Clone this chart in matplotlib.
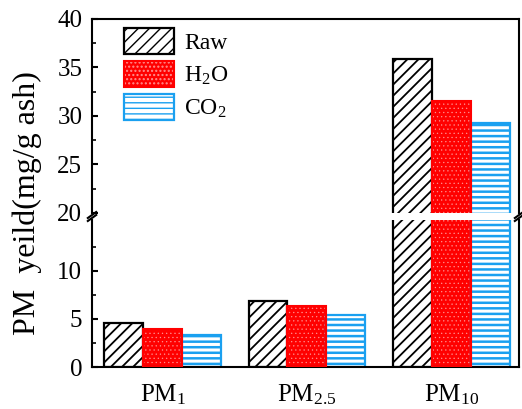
import matplotlib
matplotlib.use("Agg")
import matplotlib.pyplot as plt
import numpy as np
from matplotlib.legend_handler import HandlerTuple

plt.rcParams['font.family'] = ['Liberation Serif', 'DejaVu Serif']
plt.rcParams['mathtext.fontset'] = 'custom'
plt.rcParams['mathtext.rm'] = 'Liberation Serif'
plt.rcParams['mathtext.it'] = 'Liberation Serif'
plt.rcParams['font.size'] = 16

# data
categories = ['PM$_1$', 'PM$_{2.5}$', 'PM$_{10}$']
series_names = ['Raw', 'H$_2$O', 'CO$_2$']
raw = [4.6, 6.9, 35.9]
h2o = [4.0, 6.3, 31.5]
co2 = [3.3, 5.4, 29.25]

blue = '#1aa0f0'
red = '#ff0000'

fig = plt.figure(figsize=(5.22, 4.09), dpi=100)
left, right = 92 / 522, 519 / 522
ax_top = fig.add_axes([left, 1 - 213 / 409, right - left, (213 - 19) / 409])
ax_bot = fig.add_axes([left, 1 - 367 / 409, right - left, (367 - 220) / 409])

x = np.arange(len(categories))
w = 0.27


def draw_bars(ax):
    with plt.rc_context({'hatch.linewidth': 1.3}):
        b1 = ax.bar(x - w, raw, w, facecolor='white', edgecolor='black',
                    hatch='///', linewidth=1.6, zorder=2)
    with plt.rc_context({'hatch.linewidth': 0.4}):
        b2a = ax.bar(x, h2o, w, facecolor=red, edgecolor='#ff9090',
                     hatch='....', linewidth=0, zorder=2)
    b2b = ax.bar(x, h2o, w, fill=False, edgecolor=red, linewidth=1.5, zorder=3)
    with plt.rc_context({'hatch.linewidth': 1.8}):
        b3 = ax.bar(x + w, co2, w, facecolor='white', edgecolor=blue,
                    hatch='---', linewidth=1.6, zorder=2)
    return b1, b2a, b2b, b3


bars = draw_bars(ax_top)
draw_bars(ax_bot)

for ax in (ax_top, ax_bot):
    ax.set_xlim(-0.49, 2.47)
    for s in ax.spines.values():
        s.set_linewidth(1.5)
    ax.tick_params(axis='y', direction='in', length=4, width=1.5, labelsize=18, pad=7)
    ax.tick_params(axis='y', which='minor', direction='in', length=3, width=1.2)

ax_top.set_ylim(20, 40)
ax_top.set_yticks([20, 25, 30, 35, 40])
ax_top.set_yticks(np.arange(22.5, 40, 5), minor=True)
ax_top.spines['bottom'].set_visible(False)
ax_top.set_xticks([])

ax_bot.set_ylim(0, 15.3)
ax_bot.set_yticks([0, 5, 10])
ax_bot.set_yticks([2.5, 7.5, 12.5], minor=True)
ax_bot.spines['top'].set_visible(False)
ax_bot.set_xticks(x)
ax_bot.set_xticklabels(categories)
ax_bot.tick_params(axis='x', length=0, pad=11, labelsize=18)

# break marks
for xx in (left, right):
    fig.add_artist(plt.Line2D([xx - 0.008, xx + 0.008], [1 - 218 / 409, 1 - 212 / 409],
                              color='black', lw=1.5, transform=fig.transFigure))
    fig.add_artist(plt.Line2D([xx - 0.008, xx + 0.008], [1 - 221 / 409, 1 - 215 / 409],
                              color='black', lw=1.5, transform=fig.transFigure))

fig.text(0.052, 1 - 203 / 409, 'PM  yeild(mg/g ash)', rotation=90,
         ha='center', va='center', fontsize=23)

handles = [bars[0], (bars[1], bars[2]), bars[3]]
fig.legend(handles, series_names, loc='upper left',
           bbox_to_anchor=(124 / 522, 1 - 28 / 409), bbox_transform=fig.transFigure,
           frameon=False, borderpad=0, borderaxespad=0, fontsize=17,
           handlelength=2.1, handleheight=1.3, handletextpad=0.45,
           labelspacing=0.3,
           handler_map={tuple: HandlerTuple(ndivide=1, pad=0)})

fig.savefig('out.png', dpi=100)
